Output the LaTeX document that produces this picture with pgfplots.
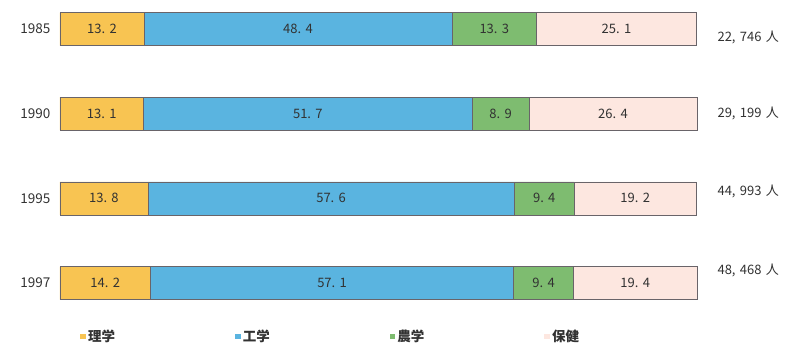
\documentclass[border=0pt]{standalone}
\usepackage{fontspec}
\setmainfont{Noto Sans CJK JP}
\usepackage{pgfplots}
\pgfplotsset{compat=1.18}
\definecolor{cY}{RGB}{248,196,82}
\definecolor{cB}{RGB}{90,180,224}
\definecolor{cG}{RGB}{126,188,112}
\definecolor{cP}{RGB}{253,231,224}
\definecolor{cE}{RGB}{105,100,105}
\definecolor{cT}{RGB}{50,50,50}
\begin{document}
\begin{tikzpicture}
\begin{axis}[
  name=ax,
  scale only axis,
  width=637pt, height=345pt,
  xmin=0, xmax=100.1,
  ymin=-0.3425, ymax=3.732,
  y dir=reverse,
  hide x axis,
  y axis line style={draw=none},
  xbar stacked,
  bar width=33pt,
  ytick={0,1,2,3},
  yticklabels={1985,1990,1995,1997},
  yticklabel style={font=\fontsize{13.5}{15}\selectfont, text=cT, xshift=-6pt},
  major tick length=0pt,
  ytick style={draw=none},
  clip=false,
  point meta=explicit,
  nodes near coords={\pgfmathprintnumber[fixed,precision=1,fixed zerofill,set decimal separator={.\,\,}]{\pgfplotspointmeta}},
  nodes near coords style={font=\fontsize{13}{15}\selectfont, text=cT, anchor=center},
  /pgf/number format/assume math mode=true,
  legend style={draw=none, fill=none, at={(rel axis cs:0.027,0.0235)}, anchor=west,
    legend columns=4, font=\fontsize{13.5}{15}\selectfont\bfseries, text=cT,
    /tikz/every even column/.append style={column sep=118pt},
    /tikz/every odd column/.append style={column sep=0pt}},
  legend cell align=left,
  legend image code/.code={\fill[#1, draw=none] (0cm,-0.09cm) rectangle (0.2cm,0.09cm);},
]
\addplot[fill=cY, draw=cE, line width=0.5pt] table[x=v, y=y, meta=v] {
v y
13.2 0
13.1 1
13.8 2
14.2 3
};
\addplot[fill=cB, draw=cE, line width=0.5pt] table[x=v, y=y, meta=v] {
v y
48.4 0
51.7 1
57.6 2
57.1 3
};
\addplot[fill=cG, draw=cE, line width=0.5pt] table[x=v, y=y, meta=v] {
v y
13.3 0
8.9 1
9.4 2
9.4 3
};
\addplot[fill=cP, draw=cE, line width=0.5pt] table[x=v, y=y, meta=v] {
v y
25.1 0
26.4 1
19.2 2
19.4 3
};
\legend{理学,工学,農学,保健}
\node[anchor=west, font=\fontsize{13}{15}\selectfont, text=cT] at (axis cs:100.1,0) [xshift=17pt, yshift=-8pt] {22,\,\,746\,\,人};
\node[anchor=west, font=\fontsize{13}{15}\selectfont, text=cT] at (axis cs:100.1,1) [xshift=17pt, yshift=0pt] {29,\,\,199\,\,人};
\node[anchor=west, font=\fontsize{13}{15}\selectfont, text=cT] at (axis cs:100.1,2) [xshift=17pt, yshift=7pt] {44,\,\,993\,\,人};
\node[anchor=west, font=\fontsize{13}{15}\selectfont, text=cT] at (axis cs:100.1,3) [xshift=17pt, yshift=13pt] {48,\,\,468\,\,人};
\end{axis}
\pgfresetboundingbox
\path[use as bounding box] ([xshift=-60pt]ax.south west) rectangle ([xshift=91pt]ax.north east);
\end{tikzpicture}
\end{document}
